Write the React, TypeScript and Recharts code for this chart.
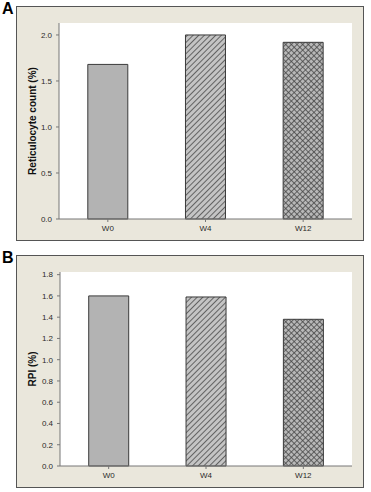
import { BarChart, Bar, XAxis, YAxis, CartesianGrid, Cell } from 'recharts';

const weeks = ['W0', 'W4', 'W12'];
const reticulocyte = [1.68, 2.0, 1.92];
const rpi = [1.6, 1.59, 1.38];
const reticTicks = [0, 0.5, 1.0, 1.5, 2.0];
const rpiTicks = [0, 0.2, 0.4, 0.6, 0.8, 1.0, 1.2, 1.4, 1.6, 1.8];
const barFills = ['#b3b3b3', 'url(#hatch)', 'url(#cross)'];

const reticData = weeks.map((week, i) => ({ week, value: reticulocyte[i] }));
const rpiData = weeks.map((week, i) => ({ week, value: rpi[i] }));

const BEIGE = '#eae7dc';
const FRAME = '#777';
const tickStyle = { fill: '#2a2a2a', fontSize: 8, fontFamily: 'Liberation Sans Narrow, Liberation Sans' };

function AxisTitle({ viewBox, text }: any) {
  const x = viewBox.x + 19;
  const y = viewBox.y + viewBox.height / 2;
  return (
    <text
      x={x}
      y={y}
      transform={`rotate(-90 ${x} ${y})`}
      textAnchor="middle"
      fontFamily="Liberation Sans"
      fontWeight="bold"
      fontSize={10}
      fill="#111"
    >
      {text}
    </text>
  );
}

function Patterns() {
  return (
    <defs>
      <pattern id="hatch" width="4" height="4" patternUnits="userSpaceOnUse" patternTransform="rotate(45)">
        <rect width="4" height="4" fill="#c4c4c4" />
        <line x1="0" y1="0" x2="0" y2="4" stroke="#4a4a4a" strokeWidth="1.6" />
      </pattern>
      <pattern id="cross" width="4" height="4" patternUnits="userSpaceOnUse" patternTransform="rotate(45)">
        <rect width="4" height="4" fill="#b8b8b8" />
        <line x1="0" y1="0" x2="0" y2="4" stroke="#444" strokeWidth="1.5" />
        <line x1="0" y1="0" x2="4" y2="0" stroke="#444" strokeWidth="1.5" />
      </pattern>
    </defs>
  );
}

interface PanelProps {
  data: { week: string; value: number }[];
  ticks: number[];
  max: number;
  title: string;
  height: number;
  margin: { top: number; right: number; bottom: number; left: number };
  axisWidth: number;
}

function Panel({ data, ticks, max, title, height, margin, axisWidth }: PanelProps) {
  return (
    <BarChart width={346} height={height} data={data} margin={margin} barCategoryGap="29.5%">
      <Patterns />
      <CartesianGrid horizontal={false} vertical={false} fill="#fff" fillOpacity={1} />
      <XAxis dataKey="week" height={21} stroke={FRAME} tick={tickStyle} tickSize={3} tickMargin={3} />
      <XAxis xAxisId="top" dataKey="week" orientation="top" height={0} stroke={FRAME} tick={false} tickLine={false} />
      <YAxis
        domain={[0, max]}
        ticks={ticks}
        width={axisWidth}
        stroke={FRAME}
        tick={tickStyle}
        tickSize={3}
        tickMargin={4}
        tickFormatter={(v) => Number(v).toFixed(1)}
        label={{ content: (props: any) => <AxisTitle {...props} text={title} /> }}
      />
      <YAxis yAxisId="right" orientation="right" domain={[0, max]} width={0} stroke={FRAME} tick={false} tickLine={false} />
      <Bar dataKey="value" stroke="#3a3a3a" strokeWidth={1} isAnimationActive={false}>
        {data.map((d, i) => (
          <Cell key={d.week} fill={barFills[i]} />
        ))}
      </Bar>
    </BarChart>
  );
}

const boxStyle = {
  position: 'absolute' as const,
  left: 16,
  width: 348,
  boxSizing: 'border-box' as const,
  border: '1px solid #555',
  background: BEIGE,
};

const letterStyle = {
  position: 'absolute' as const,
  left: 2,
  margin: 0,
  fontFamily: 'Liberation Sans',
  fontWeight: 'bold' as const,
  fontSize: 16,
  lineHeight: '16px',
  color: '#000',
};

export default function App() {
  return (
    <div style={{ position: 'fixed', left: 0, top: 0, width: 371, height: 492, background: '#fff' }}>
      <span style={{ ...letterStyle, top: 1 }}>A</span>
      <div style={{ ...boxStyle, top: 6, height: 235 }}>
        <Panel
          data={reticData}
          ticks={reticTicks}
          max={2.13}
          title="Reticulocyte count (%)"
          height={233}
          margin={{ top: 16, right: 11, bottom: 0, left: 0 }}
          axisWidth={42}
        />
      </div>
      <span style={{ ...letterStyle, top: 250 }}>B</span>
      <div style={{ ...boxStyle, top: 255, height: 233 }}>
        <Panel
          data={rpiData}
          ticks={rpiTicks}
          max={1.825}
          title="RPI (%)"
          height={231}
          margin={{ top: 16, right: 11, bottom: 0, left: 0 }}
          axisWidth={43}
        />
      </div>
    </div>
  );
}
